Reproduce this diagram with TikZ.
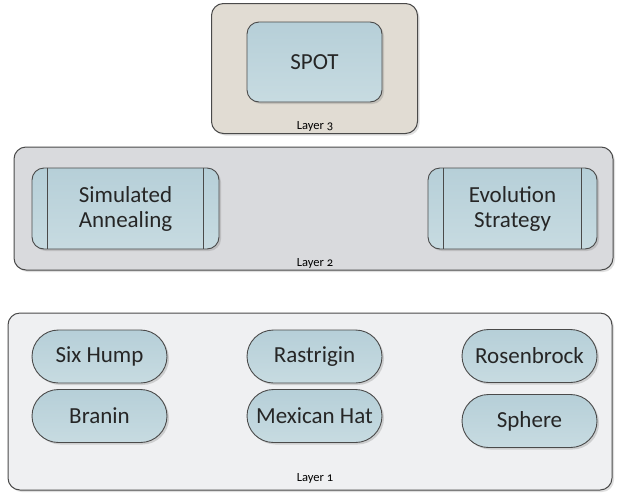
\documentclass[tikz,border=0pt]{standalone}
\usepackage{fontspec}
\setmainfont{Carlito}[Numbers=OldStyle]
\usetikzlibrary{shadows}

\definecolor{layerA}{HTML}{E1DCD3}
\definecolor{layerB}{HTML}{D9DADD}
\definecolor{layerC}{HTML}{EFF0F2}
\definecolor{cellTop}{HTML}{B6CFD8}
\definecolor{cellBot}{HTML}{C7DBE1}
\definecolor{rim}{HTML}{4A4A4A}

\tikzset{
  layerbox/.style={draw=rim, line width=1pt, rounded corners=12pt,
    drop shadow={opacity=0.25, shadow xshift=2pt, shadow yshift=-2pt}},
  cell/.style={draw=rim, line width=0.9pt, top color=cellTop, bottom color=cellBot,
    font=\fontsize{23}{25}\selectfont, text=black!85, align=center, inner sep=0pt,
    drop shadow={opacity=0.3, shadow xshift=2pt, shadow yshift=-2pt}},
  roundcell/.style={cell, rounded corners=12pt},
  pill/.style={cell, minimum width=135pt, minimum height=53pt, rounded corners=26.5pt},
  layerlabel/.style={font=\fontsize{12.5}{14}\selectfont, inner sep=0pt},
  divider/.style={draw=rim, line width=0.9pt}
}

\begin{document}
\begin{tikzpicture}[x=1pt, y=-1pt]
\useasboundingbox (0,0) rectangle (628,493);

% top layer
\node[layerbox, fill=layerA, minimum width=206pt, minimum height=130pt] (layer3) at (314.5,68.5) {};
\node[roundcell, minimum width=135pt, minimum height=80pt] (spot) at (314.5,62) {SPOT};
\node[layerlabel] (l3label) at (315,126) {Layer 3};

% middle layer
\node[layerbox, fill=layerB, minimum width=599pt, minimum height=123pt] (layer2) at (313.5,208.5) {};
\node[roundcell, minimum width=187pt, minimum height=81pt] (sa) at (125.5,208.5) {Simulated\\Annealing};
\draw[divider] ([xshift=16pt]sa.north west) -- ([xshift=16pt]sa.south west);
\draw[divider] ([xshift=-16pt]sa.north east) -- ([xshift=-16pt]sa.south east);
\node[roundcell, minimum width=169pt, minimum height=81pt] (es) at (512.5,208.5) {Evolution\\Strategy};
\draw[divider] ([xshift=16pt]es.north west) -- ([xshift=16pt]es.south west);
\draw[divider] ([xshift=-16pt]es.north east) -- ([xshift=-16pt]es.south east);
\node[layerlabel] (l2label) at (315,263) {Layer 2};

% bottom layer
\node[layerbox, fill=layerC, minimum width=604pt, minimum height=177pt] (layer1) at (310,401.5) {};
\node[pill] (sixhump) at (99.5,356.5) {Six Hump};
\node[pill] (branin) at (99.5,416) {Branin};
\node[pill] (rastrigin) at (314.5,356.5) {Rastrigin};
\node[pill] (mexhat) at (314.5,416) {Mexican Hat};
\node[pill] (rosenbrock) at (529.5,356) {Rosenbrock};
\node[pill] (sphere) at (529.5,421) {Sphere};
\node[layerlabel] (l1label) at (315,478) {Layer 1};
\end{tikzpicture}
\end{document}
